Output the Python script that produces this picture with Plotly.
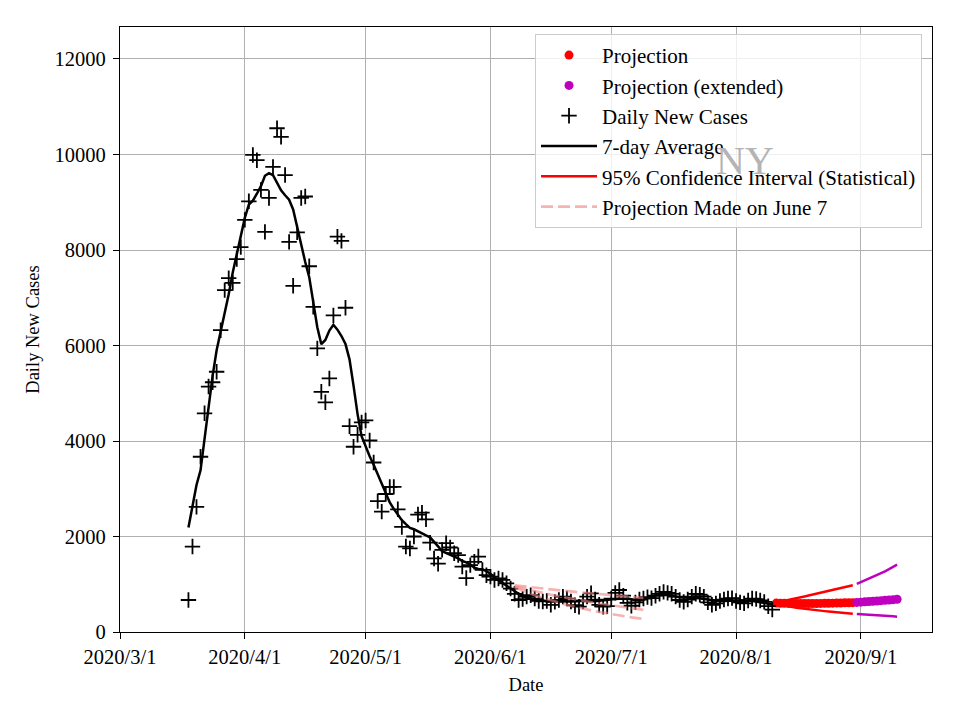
import pandas as pd
import plotly.graph_objects as go

# ---------------- data ----------------
daily_start = "2020-03-18"
daily_cases = [
    670, 1790, 2620, 3670, 4580, 5140, 5230, 5450, 6320, 7160, 7410, 7310, 7810, 8060,
    8630, 9020, 9990, 9880, 9260, 8380, 9090, 9740, 10550, 10370,
    9570, 8170, 7250, 8370, 9090, 9120, 7660, 6810, 5940, 5030,
    4810, 5310, 6630, 8280, 8190, 6790, 4310, 3880, 4130, 4390,
    4430, 4010, 3550, 2740, 2520, 2890, 3040, 3040, 2570, 2200,
    1790, 1750, 2000, 2460, 2500, 2360, 1870, 1540, 1430, 1720,
    1860, 1770, 1650, 1610, 1370, 1130, 1400, 1470, 1580, 1300,
    1190, 1160, 1090, 1120, 1090, 1020, 910, 800, 670, 690,
    740, 770, 700, 650, 640, 650, 570, 630, 670, 740,
    700, 640, 560, 530, 640, 740, 810, 680, 570, 530,
    540, 700, 820, 880, 760, 610, 550, 620, 680, 700,
    730, 710, 760, 800, 840, 820, 800, 740, 670, 630,
    680, 740, 800, 780, 740, 620, 570, 600, 650, 680,
    700, 710, 650, 620, 600, 660, 700, 690, 660, 630,
    540, 470,
]

proj_start = "2020-08-11"
proj_values = [605, 603, 601, 599, 598, 597, 596, 596, 596, 597,
               598, 599, 600, 602, 604, 606, 608, 610, 612, 614]
proj_upper = [620, 636, 652, 669, 687, 706, 726, 745, 764, 784,
              803, 823, 842, 860, 879, 897, 915, 935, 957, 980]
proj_lower = [590, 570, 552, 536, 521, 508, 496, 484, 473, 463,
              454, 445, 437, 428, 420, 412, 404, 396, 388, 380]

ext_start = "2020-08-31"
ext_values = [620, 625, 631, 637, 643, 650, 657, 664, 671, 678, 686]
ext_upper = [1010, 1045, 1080, 1115, 1150, 1190, 1230, 1270, 1315, 1360, 1410]
ext_lower = [377, 373, 369, 365, 361, 356, 350, 343, 336, 328, 321]

june7_start = "2020-06-07"
june7_upper = [975, 965, 956, 947, 937, 928, 919, 910, 901, 892, 884, 875, 866, 858, 849, 841,
               833, 825, 817, 809, 801, 793, 785, 777, 770, 762, 755, 747, 740, 733, 726, 719, 712]
june7_mid = [955, 934, 913, 893, 873, 853, 834, 816, 798, 780, 763, 746, 730, 713, 697, 682,
             667, 652, 637, 623, 609, 596, 583, 570, 557, 545, 532, 521, 509, 498, 487, 476, 465]
june7_lower = [935, 900, 866, 834, 802, 772, 743, 715, 689, 663, 638, 614, 591, 569, 548, 527,
               507, 488, 470, 452, 435, 419, 403, 388, 373, 359, 346, 333, 320, 308, 297, 286, 275]

x_tick_dates = ["2020-03-01", "2020-04-01", "2020-05-01", "2020-06-01",
                "2020-07-01", "2020-08-01", "2020-09-01"]
x_tick_labels = ["2020/3/1", "2020/4/1", "2020/5/1", "2020/6/1",
                 "2020/7/1", "2020/8/1", "2020/9/1"]
y_ticks = [0, 2000, 4000, 6000, 8000, 10000, 12000]

# ---------------- derived ----------------
daily_dates = pd.date_range(daily_start, periods=len(daily_cases), freq="D")
avg7 = pd.Series(daily_cases).rolling(7, center=True, min_periods=1).mean()
proj_dates = pd.date_range(proj_start, periods=len(proj_values), freq="D")
ext_dates = pd.date_range(ext_start, periods=len(ext_values), freq="D")
j7_dates = pd.date_range(june7_start, periods=len(june7_mid), freq="D")


def joined(dates, *series):
    xs, ys = [], []
    for s in series:
        xs += list(dates) + [None]
        ys += list(s) + [None]
    return xs, ys


fig = go.Figure()

fig.add_trace(go.Scatter(x=proj_dates, y=proj_values, mode="markers", name="Projection",
                         marker=dict(color="red", size=9, line=dict(width=0))))
fig.add_trace(go.Scatter(x=ext_dates, y=ext_values, mode="markers", name="Projection (extended)",
                         marker=dict(color="#bf00bf", size=9, line=dict(width=0))))
fig.add_trace(go.Scatter(x=daily_dates, y=daily_cases, mode="markers", name="Daily New Cases",
                         marker=dict(symbol="cross-thin", size=11, color="black",
                                     line=dict(width=1.8, color="black"))))
fig.add_trace(go.Scatter(x=daily_dates, y=avg7, mode="lines", name="7-day Average",
                         line=dict(color="black", width=2.5)))
cx, cy = joined(proj_dates, proj_upper, proj_lower)
fig.add_trace(go.Scatter(x=cx, y=cy, mode="lines", name="95% Confidence Interval (Statistical)",
                         line=dict(color="red", width=2.5)))
ex, ey = joined(ext_dates, ext_upper, ext_lower)
fig.add_trace(go.Scatter(x=ex, y=ey, mode="lines", showlegend=False,
                         line=dict(color="#bf00bf", width=2.5)))
jx, jy = joined(j7_dates, june7_upper, june7_mid, june7_lower)
fig.add_trace(go.Scatter(x=jx, y=jy, mode="lines", name="Projection Made on June 7",
                         line=dict(color="rgba(240,128,128,0.6)", width=2.7, dash="12px,5px")))

axis_common = dict(showgrid=True, gridcolor="#b0b0b0", gridwidth=1.2, zeroline=False,
                   showline=True, linecolor="black", linewidth=1.3, mirror=True,
                   ticks="outside", ticklen=6, tickwidth=1.3, tickcolor="black",
                   tickfont=dict(size=20.5))

fig.update_xaxes(range=["2020-03-01", "2020-09-18 16:00"], tickmode="array",
                 tickvals=x_tick_dates, ticktext=x_tick_labels,
                 title=dict(text="Date", standoff=11, font=dict(size=18.5)), **axis_common)
fig.update_yaxes(range=[0, 12670], tickmode="array", tickvals=y_ticks,
                 ticktext=[str(v) for v in y_ticks], ticklabelstandoff=3,
                 title=dict(text="Daily New Cases", standoff=10, font=dict(size=18.5)),
                 **axis_common)

fig.add_annotation(text="NY", xref="paper", yref="paper", x=0.77, y=0.78,
                   xanchor="center", yanchor="middle",
                   showarrow=False, font=dict(size=40, color="#b4b4b4",
                                              family="Liberation Serif"))

fig.update_layout(
    width=960, height=720,
    margin=dict(l=112, r=36, t=19, b=96),
    plot_bgcolor="white", paper_bgcolor="white",
    font=dict(family="Liberation Serif", size=20, color="black"),
    legend=dict(x=0.9877, y=0.9885, xanchor="right", yanchor="top",
                bgcolor="rgba(255,255,255,0.8)", bordercolor="#cccccc", borderwidth=1,
                font=dict(size=21), itemwidth=56),
    showlegend=True,
)

fig.write_html("out.html")
